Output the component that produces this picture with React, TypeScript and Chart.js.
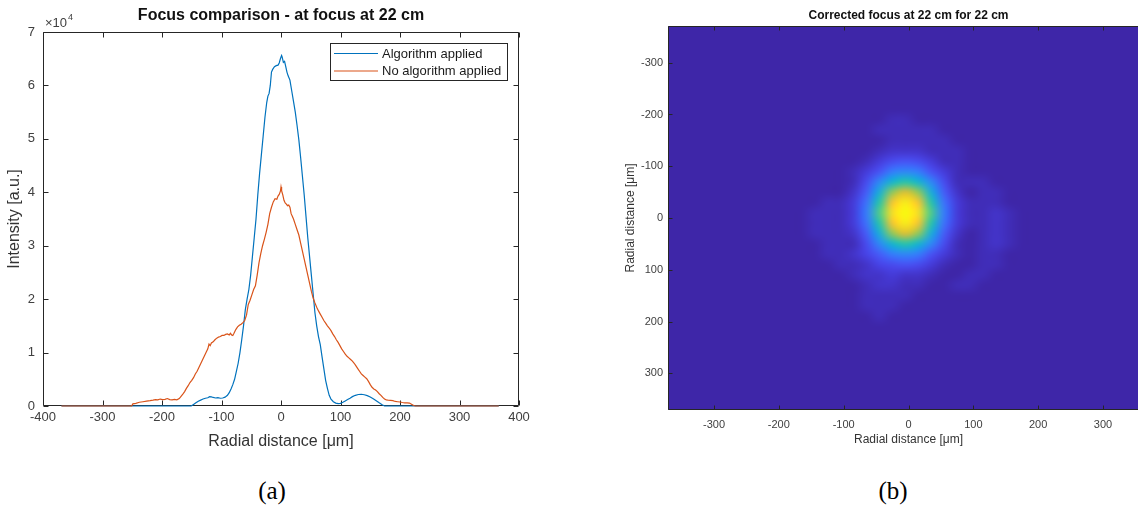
import React, { useEffect, useRef } from "react";
import { Chart, registerables } from "chart.js";

Chart.register(...registerables);

// ---------------- Data: panel (a) ----------------
const profileXTicks = [-400, -300, -200, -100, 0, 100, 200, 300, 400];
const profileYTicks = [0, 10000, 20000, 30000, 40000, 50000, 60000, 70000];
const profileYTickLabels = ["0", "1", "2", "3", "4", "5", "6", "7"];
const seriesLabels = ["Algorithm applied", "No algorithm applied"];

// [radial distance (µm), intensity (a.u.)]
const algorithmApplied: [number, number][] = [
  [-369, 0], [-250, 0], [-200, 0], [-155, 0], [-151, 0], [-147, 300], [-143, 600], [-139, 900],
  [-135, 1100], [-131, 1300], [-127, 1450], [-123, 1550], [-120, 1750], [-117, 1700], [-114, 1600],
  [-110, 1500], [-106, 1550], [-102, 1450], [-98, 1500], [-94, 1650], [-90, 2000], [-87, 2500],
  [-84, 3200], [-81, 4000], [-78, 5000], [-75, 6500], [-72, 8000], [-69, 10000], [-66, 12400],
  [-63, 15000], [-60, 18000], [-57, 20000], [-54, 21800], [-51, 24500], [-48, 28000], [-45, 31500],
  [-42, 35000], [-39, 39500], [-36, 43500], [-33, 47000], [-30, 50500], [-27, 54000], [-24, 56800],
  [-22, 58000], [-20, 58500], [-18, 60000], [-16, 62500], [-14, 63000], [-11, 63500], [-8, 63700],
  [-5, 63800], [-3, 64200], [-1, 65000], [1, 65600], [2, 65300], [4, 64300], [6, 64500], [8, 63500],
  [10, 62500], [12, 61800], [15, 61000], [18, 59000], [21, 57000], [24, 55000], [27, 52500],
  [30, 49800], [33, 46500], [36, 43000], [39, 39500], [42, 35500], [45, 31500], [48, 28000],
  [51, 24500], [54, 21000], [57, 17500], [60, 15000], [63, 13000], [66, 11500], [69, 9200],
  [72, 7000], [75, 4800], [78, 3300], [81, 2000], [84, 1300], [88, 800], [92, 550], [96, 450],
  [100, 500], [104, 700], [108, 950], [112, 1200], [116, 1450], [120, 1750], [125, 2000],
  [130, 2150], [135, 2200], [140, 2100], [145, 1950], [150, 1700], [155, 1350], [160, 1000],
  [165, 600], [170, 250], [174, 0], [225, 0], [366, 0],
];

const noAlgorithmApplied: [number, number][] = [
  [-369, 0], [-300, 0], [-251, 0], [-249, 400], [-244, 500], [-238, 700], [-232, 800], [-226, 900],
  [-220, 1000], [-215, 1100], [-211, 1200], [-207, 1150], [-203, 1300], [-199, 1200], [-195, 1250],
  [-191, 1400], [-187, 1200], [-183, 1150], [-179, 1250], [-175, 1150], [-171, 1400], [-168, 1800],
  [-165, 2200], [-162, 2700], [-159, 3300], [-156, 3800], [-153, 4400], [-150, 4800], [-147, 5300],
  [-144, 6000], [-141, 6500], [-138, 7200], [-135, 7900], [-132, 8600], [-129, 9300], [-126, 10000],
  [-123, 10700], [-121, 11600], [-119, 11300], [-117, 11800], [-114, 12000], [-111, 12400],
  [-108, 12700], [-105, 12900], [-102, 13000], [-99, 13200], [-96, 13200], [-93, 13400],
  [-90, 13500], [-87, 13300], [-85, 13600], [-83, 13300], [-81, 13200], [-79, 13600], [-76, 14300],
  [-73, 14800], [-70, 15100], [-67, 15300], [-64, 15600], [-61, 16000], [-58, 17000], [-55, 19000],
  [-52, 19800], [-49, 20800], [-46, 21800], [-43, 22500], [-40, 24500], [-37, 26800], [-34, 28500],
  [-31, 30000], [-28, 31200], [-25, 32500], [-22, 34000], [-19, 36000], [-16, 37200], [-13, 38200],
  [-10, 38800], [-7, 38700], [-5, 39300], [-3, 39600], [-1, 40200], [0, 41000], [1, 40300],
  [3, 39500], [5, 38500], [7, 38000], [9, 37800], [11, 37500], [13, 37600], [15, 37200], [17, 36000],
  [19, 35500], [21, 35000], [24, 34000], [27, 33000], [30, 32000], [33, 30500], [36, 29000],
  [39, 27500], [42, 26000], [45, 24500], [48, 23000], [51, 21500], [54, 20200], [57, 19300],
  [60, 18500], [63, 17800], [66, 17200], [69, 16600], [72, 16000], [75, 15500], [78, 15000],
  [81, 14600], [84, 14100], [87, 13500], [90, 13000], [93, 12400], [96, 11900], [99, 11300],
  [102, 10700], [105, 10200], [108, 9700], [111, 9300], [114, 9000], [117, 8700], [120, 8400],
  [123, 8000], [126, 7500], [129, 7000], [132, 6500], [135, 6000], [138, 5700], [141, 5400],
  [144, 5100], [147, 4600], [150, 4000], [153, 3500], [156, 3200], [159, 3000], [162, 2700],
  [165, 2300], [168, 2000], [171, 1600], [174, 1300], [177, 1150], [180, 1100], [184, 1050],
  [188, 1000], [192, 850], [196, 800], [200, 750], [204, 650], [208, 600], [212, 600], [216, 550],
  [220, 300], [223, 100], [226, 0], [300, 0], [366, 0],
];

// ---------------- Data: panel (b) ----------------
const mapTicks = [-300, -200, -100, 0, 100, 200, 300];
// image extent in µm (cell edges): 37 columns x 38 rows of 20 µm cells
const mapXExtent = [-375, 365];
const mapYExtent = [-380, 380];
// intensity per cell as base-36 digit (1 = background, z = peak); spaces only group columns
const mapRows = [
  "11111111111 1111111111111111 1111111111",
  "11111111111 1111111111111111 1111111111",
  "11111111111 1111111111111111 1111111111",
  "11111111111 1111111111111111 1111111111",
  "11111111111 1111111111111111 1111111111",
  "11111111111 1111111111111111 1111111111",
  "11111111111 1111111111111111 1111111111",
  "11111111111 1111111111111111 1111111111",
  "11111111111 1111111111111111 1111111111",
  "11111111111 1111112211111111 1111111111",
  "11111111111 1111122222111111 1111111111",
  "11111111111 1111112222211111 1111111111",
  "11111111111 1111123332221111 1111111111",
  "11111111111 1111246764221111 1111111111",
  "11111111111 111247bcb7421111 1111111111",
  "11111111111 11126chkhc622211 1111111111",
  "11111111111 11138gptpg831221 1111111111",
  "11111111111 1224akvyvka42221 1111111111",
  "11111111111 2224bmxzxmb42232 1111111111",
  "11111111111 2224akvyvka42232 1111111111",
  "11111111111 22238gptpg831232 1111111111",
  "11111111111 12226chkhc621232 1111111111",
  "11111111111 122358bcb7421221 1111111111",
  "11111111111 1122356764211221 1111111111",
  "11111111111 1112334332112211 1111111111",
  "11111111111 1111233221122111 1111111111",
  "11111111111 1111222211111111 1111111111",
  "11111111111 1111222111111111 1111111111",
  "11111111111 1111121111111111 1111111111",
  "11111111111 1111111111111111 1111111111",
  "11111111111 1111111111111111 1111111111",
  "11111111111 1111111111111111 1111111111",
  "11111111111 1111111111111111 1111111111",
  "11111111111 1111111111111111 1111111111",
  "11111111111 1111111111111111 1111111111",
  "11111111111 1111111111111111 1111111111",
  "11111111111 1111111111111111 1111111111",
  "11111111111 1111111111111111 1111111111",
];

// ---------------- Styles ----------------
const SANS = '"Liberation Sans", Arial, Helvetica, sans-serif';
const SERIF = '"Liberation Serif", "Times New Roman", serif';
const AXIS = "#262626";
const TEXT = "#404040";
const LINE_COLORS = ["#0072BD", "#D95319"];
const PARULA_STOPS = [0, 0.111, 0.175, 0.238, 0.302, 0.365, 0.429, 0.492, 0.556, 0.619, 0.683, 0.746, 0.81, 0.873, 0.937, 1];
const PARULA = [
  [62, 38, 168], [71, 65, 230], [72, 82, 244], [68, 103, 253], [51, 127, 252], [39, 150, 235],
  [26, 170, 223], [15, 186, 199], [35, 196, 172], [78, 203, 139], [127, 202, 103], [175, 197, 70],
  [217, 190, 52], [247, 193, 50], [246, 221, 40], [249, 251, 14],
];

function parula(t: number): number[] {
  const v = Math.max(0, Math.min(1, t));
  for (let k = 1; k < PARULA_STOPS.length; k++) {
    if (v <= PARULA_STOPS[k]) {
      const f = (v - PARULA_STOPS[k - 1]) / (PARULA_STOPS[k] - PARULA_STOPS[k - 1]);
      const a = PARULA[k - 1], b = PARULA[k];
      return [0, 1, 2].map((c) => Math.round(a[c] + (b[c] - a[c]) * f));
    }
  }
  return PARULA[PARULA.length - 1];
}

function drawFrame(chart: any, tickLen: number) {
  const { ctx, chartArea: a, scales } = chart;
  const L = Math.round(a.left) + 0.5, R = Math.round(a.right) - 0.5;
  const T = Math.round(a.top) + 0.5, B = Math.round(a.bottom) - 0.5;
  ctx.save();
  ctx.strokeStyle = AXIS;
  ctx.lineWidth = 1;
  ctx.beginPath();
  ctx.rect(L, T, R - L, B - T);
  for (const t of scales.x.ticks) {
    const p = Math.round(scales.x.getPixelForValue(t.value)) + 0.5;
    ctx.moveTo(p, B); ctx.lineTo(p, B - tickLen);
    ctx.moveTo(p, T); ctx.lineTo(p, T + tickLen);
  }
  for (const t of scales.y.ticks) {
    const p = Math.round(scales.y.getPixelForValue(t.value)) + 0.5;
    ctx.moveTo(L, p); ctx.lineTo(L + tickLen, p);
    ctx.moveTo(R, p); ctx.lineTo(R - tickLen, p);
  }
  ctx.stroke();
  ctx.restore();
}

function drawTitle(chart: any, text: string, size: number, y: number) {
  const { ctx, chartArea: a } = chart;
  ctx.save();
  ctx.font = `bold ${size}px ${SANS}`;
  ctx.fillStyle = "#111";
  ctx.textAlign = "center";
  ctx.textBaseline = "middle";
  ctx.fillText(text, (a.left + a.right) / 2, y);
  ctx.restore();
}

const profileDecor = {
  id: "profileDecor",
  beforeDatasetsDraw(chart: any) {
    drawFrame(chart, 5);
  },
  afterDraw(chart: any) {
    const { ctx, chartArea: a } = chart;
    drawTitle(chart, "Focus comparison - at focus at 22 cm", 16, 15.5);
    // exponent
    ctx.save();
    ctx.fillStyle = TEXT;
    ctx.textBaseline = "alphabetic";
    ctx.textAlign = "left";
    ctx.font = `13px ${SANS}`;
    ctx.fillText("\u00d710", a.left + 2, a.top - 5);
    const w = ctx.measureText("\u00d710").width;
    ctx.font = `9px ${SANS}`;
    ctx.fillText("4", a.left + 2 + w + 1, a.top - 12);
    // legend
    ctx.font = `13px ${SANS}`;
    const tw = Math.max(...chart.data.datasets.map((d: any) => ctx.measureText(d.label).width));
    const boxW = Math.round(4 + 44 + 4 + tw + 7);
    const boxH = 38;
    const right = Math.round(a.right) - 11;
    const left = right - boxW;
    const top = Math.round(a.top) + 11;
    ctx.fillStyle = "#fff";
    ctx.fillRect(left, top, boxW, boxH);
    ctx.strokeStyle = AXIS;
    ctx.lineWidth = 1;
    ctx.strokeRect(left + 0.5, top + 0.5, boxW - 1, boxH - 1);
    chart.data.datasets.forEach((d: any, i: number) => {
      const y = top + 10.5 + i * 17.5;
      ctx.strokeStyle = d.borderColor;
      ctx.lineWidth = 1.2;
      ctx.beginPath();
      ctx.moveTo(left + 4, y);
      ctx.lineTo(left + 48, y);
      ctx.stroke();
      ctx.fillStyle = "#1a1a1a";
      ctx.textBaseline = "middle";
      ctx.fillText(d.label, left + 52, y + 0.5);
    });
    ctx.restore();
  },
};

const mapDecor = {
  id: "mapDecor",
  beforeDatasetsDraw(chart: any) {
    const { ctx, chartArea: a, scales } = chart;
    const grid = mapRows.map((r) => r.replace(/ /g, ""));
    const rows = grid.length;
    const cols = grid[0].length;
    const off = document.createElement("canvas");
    off.width = cols;
    off.height = rows;
    const octx = off.getContext("2d")!;
    const img = octx.createImageData(cols, rows);
    for (let j = 0; j < rows; j++) {
      for (let i = 0; i < cols; i++) {
        const v = (parseInt(grid[j][i] || "1", 36) - 1) / 34;
        const [r, g, b] = parula(v);
        const k = (j * cols + i) * 4;
        img.data[k] = r; img.data[k + 1] = g; img.data[k + 2] = b; img.data[k + 3] = 255;
      }
    }
    octx.putImageData(img, 0, 0);
    const x0 = scales.x.getPixelForValue(mapXExtent[0]);
    const x1 = scales.x.getPixelForValue(mapXExtent[1]);
    const y0 = scales.y.getPixelForValue(mapYExtent[0]);
    const y1 = scales.y.getPixelForValue(mapYExtent[1]);
    ctx.save();
    ctx.beginPath();
    ctx.rect(a.left, a.top, a.right - a.left, a.bottom - a.top);
    ctx.clip();
    ctx.imageSmoothingEnabled = true;
    (ctx as any).imageSmoothingQuality = "high";
    ctx.drawImage(off, x0, Math.min(y0, y1), x1 - x0, Math.abs(y1 - y0));
    ctx.restore();
  },
  afterDraw(chart: any) {
    drawFrame(chart, 4);
    drawTitle(chart, "Corrected focus at 22 cm for 22 cm", 12, 15.5);
  },
};

function FocusProfile() {
  const ref = useRef<HTMLCanvasElement>(null);
  useEffect(() => {
    const chart = new Chart(ref.current!, {
      type: "line",
      data: {
        datasets: [
          {
            label: seriesLabels[0],
            data: algorithmApplied.map(([x, y]) => ({ x, y })),
            borderColor: LINE_COLORS[0],
            borderWidth: 1.2,
            pointRadius: 0,
            tension: 0,
            clip: false as any,
            order: 1,
          },
          {
            label: seriesLabels[1],
            data: noAlgorithmApplied.map(([x, y]) => ({ x, y })),
            borderColor: LINE_COLORS[1],
            borderWidth: 1.2,
            pointRadius: 0,
            tension: 0,
            clip: false as any,
            order: 0,
          },
        ],
      },
      options: {
        animation: false,
        responsive: false,
        devicePixelRatio: 1,
        events: [],
        layout: { padding: { left: 0, top: 32, right: 41, bottom: 0 } },
        plugins: { legend: { display: false }, tooltip: { enabled: false }, title: { display: false } },
        scales: {
          x: {
            type: "linear",
            min: -400,
            max: 400,
            afterBuildTicks: (s: any) => { s.ticks = profileXTicks.map((v) => ({ value: v })); },
            afterFit: (s: any) => { s.height = 54; },
            grid: { display: false, drawTicks: false },
            border: { display: false },
            ticks: { color: TEXT, font: { family: SANS, size: 13 }, padding: 4, maxRotation: 0, autoSkip: false },
            title: { display: true, text: "Radial distance [\u03bcm]", color: "#333", font: { family: SANS, size: 16 }, padding: { top: 0, bottom: 9 } },
          },
          y: {
            type: "linear",
            min: 0,
            max: 70000,
            afterBuildTicks: (s: any) => { s.ticks = profileYTicks.map((v) => ({ value: v })); },
            afterFit: (s: any) => { s.width = 43; },
            grid: { display: false, drawTicks: false },
            border: { display: false },
            ticks: {
              color: TEXT,
              font: { family: SANS, size: 13 },
              padding: 8,
              autoSkip: false,
              callback: (v: any) => profileYTickLabels[profileYTicks.indexOf(Number(v))] ?? "",
            },
            title: { display: true, text: "Intensity [a.u.]", color: "#333", font: { family: SANS, size: 16 }, padding: { top: 5.4, bottom: 0 } },
          },
        },
      },
      plugins: [profileDecor],
    } as any);
    return () => chart.destroy();
  }, []);
  return (
    <canvas
      ref={ref}
      width={560}
      height={460}
      style={{ position: "absolute", left: 0, top: 0, width: 560, height: 460 }}
    />
  );
}

function FocusMap() {
  const ref = useRef<HTMLCanvasElement>(null);
  useEffect(() => {
    const chart = new Chart(ref.current!, {
      type: "scatter",
      data: { datasets: [] },
      options: {
        animation: false,
        responsive: false,
        devicePixelRatio: 1,
        events: [],
        layout: { padding: { left: 60, top: 26, right: 11, bottom: 0 } },
        plugins: { legend: { display: false }, tooltip: { enabled: false }, title: { display: false } },
        scales: {
          x: {
            type: "linear",
            min: -371,
            max: 371,
            afterBuildTicks: (s: any) => { s.ticks = mapTicks.map((v) => ({ value: v })); },
            afterFit: (s: any) => { s.height = 50; },
            grid: { display: false, drawTicks: false },
            border: { display: false },
            ticks: { color: TEXT, font: { family: SANS, size: 11 }, padding: 8, maxRotation: 0, autoSkip: false },
            title: { display: true, text: "Radial distance [\u03bcm]", color: "#333", font: { family: SANS, size: 12 }, padding: { top: 0, bottom: 13 } },
          },
          y: {
            type: "linear",
            min: -371,
            max: 371,
            reverse: true,
            afterBuildTicks: (s: any) => { s.ticks = mapTicks.map((v) => ({ value: v })); },
            afterFit: (s: any) => { s.width = 48; },
            grid: { display: false, drawTicks: false },
            border: { display: false },
            ticks: { color: TEXT, font: { family: SANS, size: 11 }, padding: 5, autoSkip: false },
            title: { display: true, text: "Radial distance [\u03bcm]", color: "#333", font: { family: SANS, size: 12 }, padding: { top: 3.8, bottom: 0 } },
          },
        },
      },
      plugins: [mapDecor],
    } as any);
    return () => chart.destroy();
  }, []);
  return (
    <canvas
      ref={ref}
      width={600}
      height={460}
      style={{ position: "absolute", left: 560, top: 0, width: 600, height: 460 }}
    />
  );
}

const captionStyle: React.CSSProperties = {
  position: "absolute",
  top: 490,
  transform: "translate(-50%, -50%)",
  fontFamily: SERIF,
  fontSize: 25,
  lineHeight: 1,
  whiteSpace: "nowrap",
  color: "#000",
};

export default function App() {
  return (
    <div
      style={{
        position: "fixed",
        left: 0,
        top: 0,
        width: 1138,
        height: 508,
        overflow: "hidden",
        background: "#fff",
      }}
    >
      <FocusProfile />
      <FocusMap />
      <div style={{ ...captionStyle, left: 272 }}>(a)</div>
      <div style={{ ...captionStyle, left: 893 }}>(b)</div>
    </div>
  );
}
